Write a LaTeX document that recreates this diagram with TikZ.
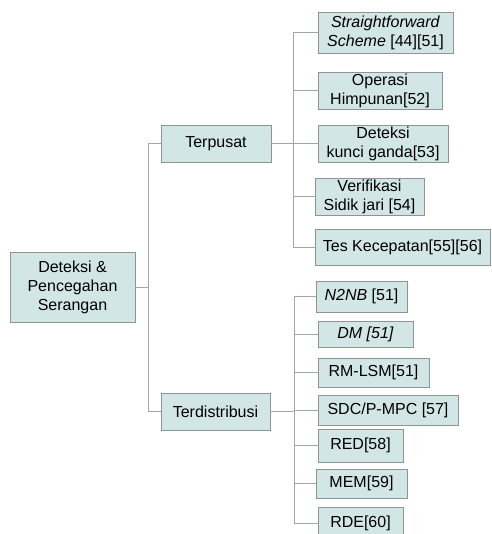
\documentclass[tikz,border=0pt]{standalone}
\usepackage{fontspec}
\setmainfont{Liberation Sans}
\definecolor{boxfill}{HTML}{D3E6E6}
\definecolor{boxline}{HTML}{8E9494}
\definecolor{conn}{HTML}{A6A6A6}
\begin{document}
\begin{tikzpicture}[x=1pt,y=-1pt,
  box/.style={draw=boxline, fill=boxfill, line width=0.9pt, inner sep=0pt, align=center,
    font=\fontsize{16}{19}\selectfont},
  conline/.style={draw=conn, line width=0.9pt}]
\useasboundingbox (0,0) rectangle (491,534);
% root and level 1
\node[box, minimum width=125, minimum height=70] (root) at (72.5,287) {Deteksi \&\\Pencegahan\\Serangan};
\node[box, minimum width=110, minimum height=37] (terp) at (216,143.5) {Terpusat};
\node[box, minimum width=109, minimum height=37] (terd) at (215.5,411.5) {Terdistribusi};
% Terpusat children
\node[box, minimum width=135, minimum height=41] (sf) at (385.5,32.5) {\textit{Straightforward}\\\textit{Scheme} [44][51]};
\node[box, minimum width=124, minimum height=37] (op) at (380,90.5) {Operasi\\Himpunan[52]};
\node[box, minimum width=130, minimum height=37] (dk) at (383,143.5) {Deteksi\\kunci ganda[53]};
\node[box, minimum width=109, minimum height=37] (vs) at (369.5,196.5) {Verifikasi\\Sidik jari [54]};
\node[box, minimum width=175, minimum height=36] (tk) at (402.5,247) {Tes Kecepatan[55][56]};
% Terdistribusi children
\node[box, minimum width=91, minimum height=31] (n2nb) at (361.5,296.5) {\textit{N2NB} [51]};
\node[box, minimum width=95, minimum height=26] (dm) at (365.5,334) {\textit{DM [51]}};
\node[box, minimum width=111, minimum height=29] (rm) at (373.5,372.5) {RM-LSM[51]};
\node[box, minimum width=140, minimum height=30] (sdc) at (388,410) {SDC/P-MPC [57]};
\node[box, minimum width=85, minimum height=33] (red) at (360.5,445.5) {RED[58]};
\node[box, minimum width=91, minimum height=29] (mem) at (361.5,483.5) {MEM[59]};
\node[box, minimum width=85, minimum height=33] (rde) at (360.5,523.5) {RDE[60]};
% junctions
\coordinate (j0) at (148,287);
\coordinate (j1) at (293,143.5);
\coordinate (j2) at (294,411.5);
% connectors
\draw[conline] (root.east) -- (j0);
\draw[conline] (j0) |- (terp.west);
\draw[conline] (j0) |- (terd.west);
\draw[conline] (terp.east) -- (j1);
\foreach \c in {sf,op,dk,vs,tk} \draw[conline] (j1) |- (\c.west);
\draw[conline] (terd.east) -- (j2);
\foreach \c in {n2nb,dm,rm,sdc,red,mem,rde} \draw[conline] (j2) |- (\c.west);
\end{tikzpicture}
\end{document}
